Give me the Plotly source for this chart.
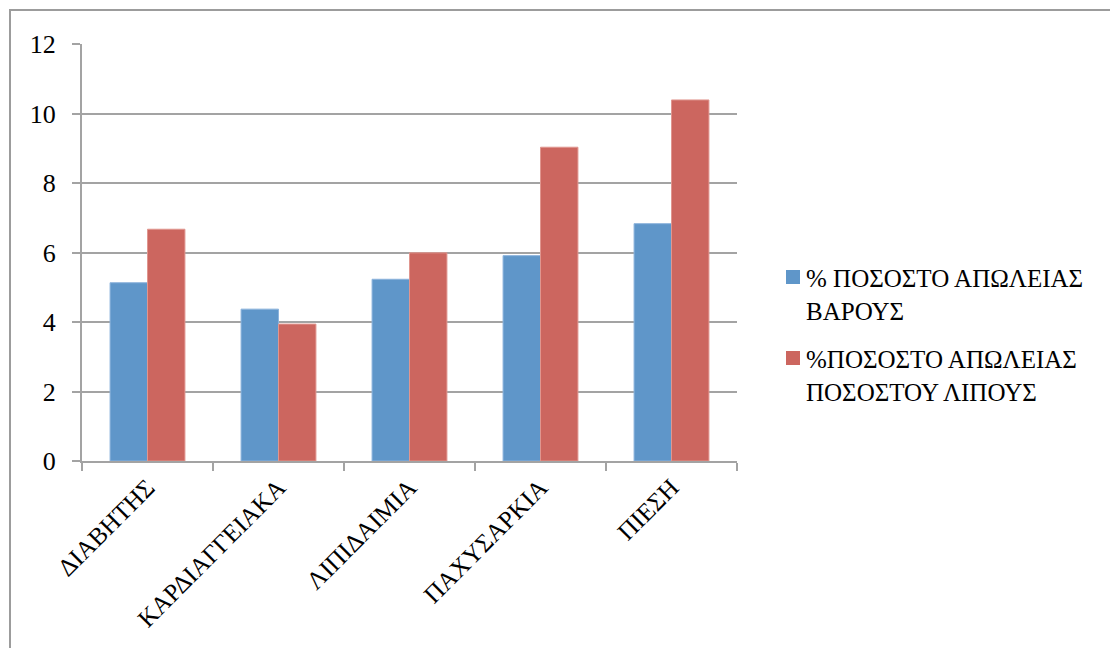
import plotly.graph_objects as go

categories = ["ΔΙΑΒΗΤΗΣ", "ΚΑΡΔΙΑΓΓΕΙΑΚΑ", "ΛΙΠΙΔΑΙΜΙΑ", "ΠΑΧΥΣΑΡΚΙΑ", "ΠΙΕΣΗ"]
weight_loss = [5.13, 4.37, 5.23, 5.91, 6.83]
fat_loss = [6.67, 3.94, 5.99, 9.03, 10.39]
series_names = ["% ΠΟΣΟΣΤΟ ΑΠΩΛΕΙΑΣ<br>ΒΑΡΟΥΣ", "%ΠΟΣΟΣΤΟ ΑΠΩΛΕΙΑΣ<br>ΠΟΣΟΣΤΟΥ ΛΙΠΟΥΣ"]
series_colors = ["#5f96c9", "#cc665f"]
series_edges = ["#8cb3dc", "#e0968f"]
y_ticks = [0, 2, 4, 6, 8, 10, 12]

FONT = "Liberation Serif"
GRID = "#a3a3a3"

# plot area in pixels (used for placing the frame and the side legend)
L, R, T, B = 82, 737, 44, 461
W, H = R - L, B - T


def px_x(x):
    return (x - L) / W


def px_y(y):
    return (B - y) / H


fig = go.Figure()
for vals, name, col, edge in zip([weight_loss, fat_loss], series_names, series_colors, series_edges):
    fig.add_trace(go.Bar(x=categories, y=vals, name=name, showlegend=False,
                         marker=dict(color=col, line=dict(color=edge, width=1))))

fig.update_layout(
    width=1110, height=648,
    margin=dict(l=L, r=1110 - R, t=T, b=648 - B),
    paper_bgcolor="white", plot_bgcolor="white",
    barmode="group", bargap=0.4286, bargroupgap=0,
    font=dict(family=FONT, size=25, color="black"),
    showlegend=False,
    xaxis=dict(type="category", tickson="boundaries", ticks="outside", ticklen=8,
               tickcolor=GRID, tickwidth=2, showline=True, linecolor=GRID, linewidth=2,
               showgrid=False, tickangle=-45, tickfont=dict(family=FONT, size=25)),
    yaxis=dict(range=[0, 12], tickvals=y_ticks, ticks="outside", ticklen=8,
               tickcolor=GRID, tickwidth=2, showline=True, linecolor=GRID, linewidth=2,
               showgrid=True, gridcolor=GRID, gridwidth=2, zeroline=False,
               ticklabelstandoff=11, tickfont=dict(family=FONT, size=26)),
)

# outer chart frame
fig.add_shape(type="rect", xref="paper", yref="paper",
              x0=px_x(10), x1=1.8, y0=-0.6, y1=px_y(10),
              line=dict(color="#9c9c9c", width=2), layer="below")

# side legend: coloured square + two-line label per series
legend_tops = [270, 351]
for top, name, col in zip(legend_tops, series_names, series_colors):
    fig.add_shape(type="rect", xref="paper", yref="paper",
                  x0=px_x(786), x1=px_x(800), y0=px_y(top + 14), y1=px_y(top),
                  fillcolor=col, line=dict(width=0))
    fig.add_annotation(xref="paper", yref="paper", x=px_x(804), y=px_y(top - 7),
                       xanchor="left", yanchor="top", align="left", showarrow=False,
                       text=name, font=dict(family=FONT, size=25, color="black"))

fig.write_html("out.html")
